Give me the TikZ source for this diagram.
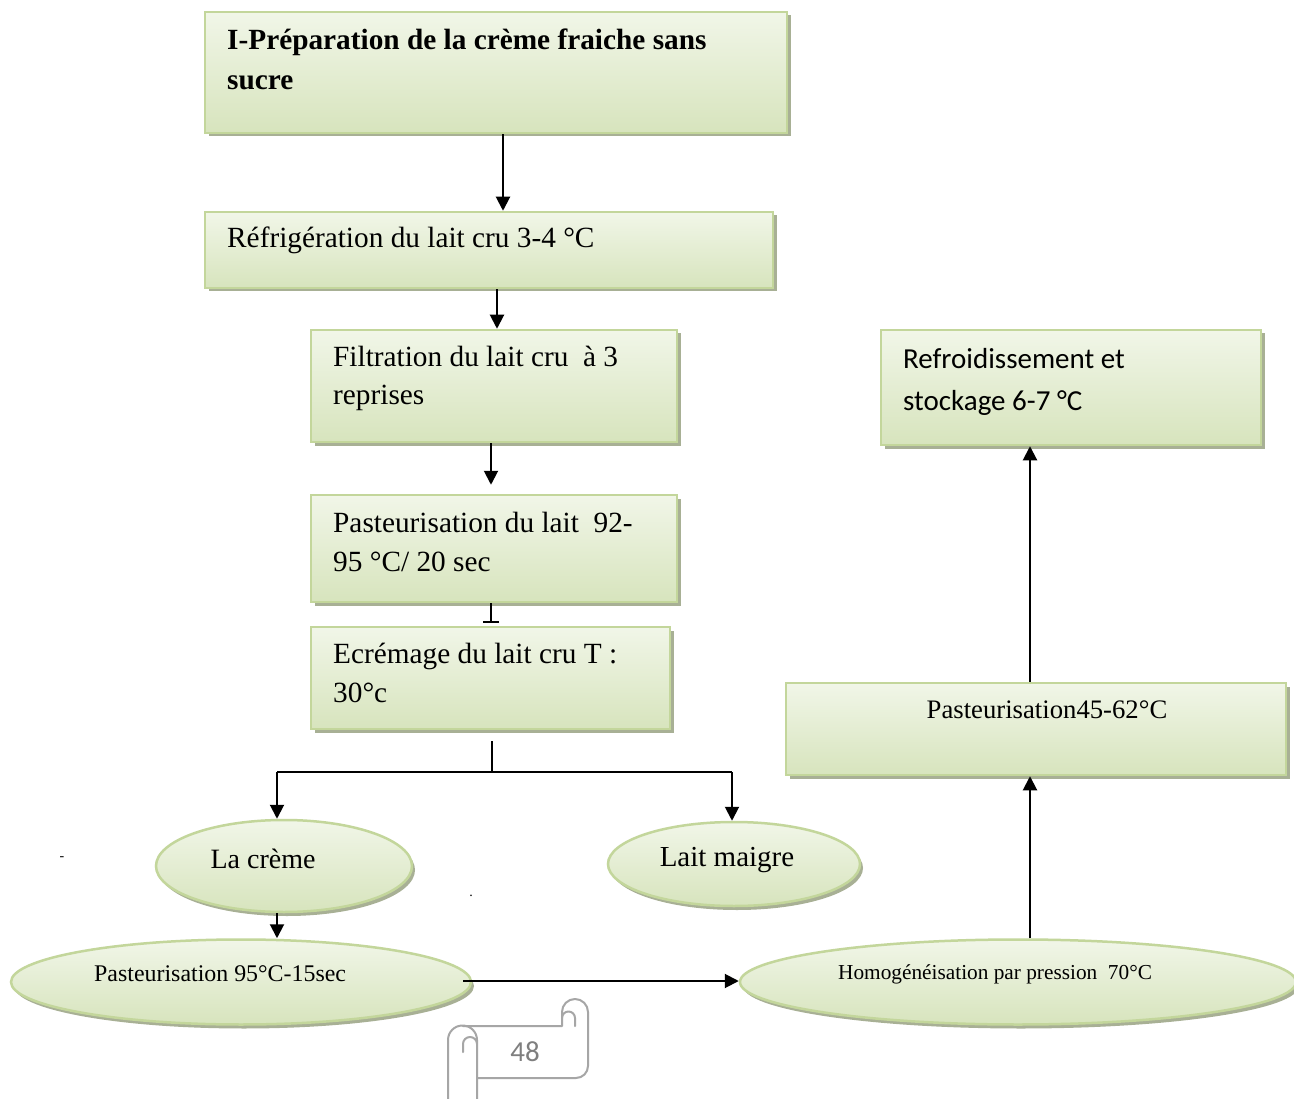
\documentclass[tikz,border=0pt]{standalone}
\usepackage{fontspec}
\setmainfont{Liberation Serif}
\newfontfamily\calib{Carlito}
\usetikzlibrary{arrows.meta,shapes.geometric,shadows,calc}
\definecolor{boxborder}{HTML}{C3D69B}
\definecolor{boxtop}{HTML}{F1F6E8}
\definecolor{boxbot}{HTML}{D7E4BD}
\definecolor{shcol}{HTML}{A8B095}
\definecolor{scrollgray}{HTML}{A6A6A6}
\definecolor{numgray}{HTML}{7F7F7F}
\begin{document}
\begin{tikzpicture}[x=1pt,y=-1pt,
  stepbox/.style={rectangle, draw=boxborder, line width=2.5pt, top color=boxtop, bottom color=boxbot, inner sep=0pt,
    general shadow={fill=shcol, shadow xshift=3.5pt, shadow yshift=-3.5pt}},
  ovalbox/.style={ellipse, draw=boxborder, line width=2.5pt, top color=boxtop, bottom color=boxbot, inner sep=0pt,
    general shadow={fill=shcol, shadow xshift=3pt, shadow yshift=-4pt}},
  lbl/.style={inner sep=0pt, anchor=base west, font=\fontsize{29.3}{40}\selectfont},
  clbl/.style={inner sep=0pt, anchor=base, font=\fontsize{29}{40}\selectfont},
  arr/.style={line width=2pt, -{Triangle[width=14pt,length=14pt]}},
  plain/.style={line width=2pt},
  scroll/.style={draw=scrollgray, line width=2pt, line join=round, line cap=round}
]
\fill[white] (0,0) rectangle (1294,1099);
\useasboundingbox (0,0) rectangle (1294,1099);

% boxes
\node[stepbox, minimum width=582pt, minimum height=121pt] (top) at (496,72.5) {};
\node[stepbox, minimum width=568pt, minimum height=76pt] (refr) at (489,250) {};
\node[stepbox, minimum width=366pt, minimum height=112pt] (filt) at (494,386) {};
\node[stepbox, minimum width=366pt, minimum height=107pt] (past) at (494,548.5) {};
\node[stepbox, minimum width=359pt, minimum height=102pt] (ecr) at (490.5,678) {};
\node[stepbox, minimum width=380pt, minimum height=115pt] (refroid) at (1071,387.5) {};
\node[stepbox, minimum width=500pt, minimum height=92pt] (p45) at (1036,729) {};

% ellipses
\node[ovalbox, minimum width=256pt, minimum height=92pt] (creme) at (284,866) {};
\node[ovalbox, minimum width=252pt, minimum height=84pt] (maigre) at (734,864) {};
\node[ovalbox, minimum width=460pt, minimum height=85pt] (p95) at (241,982) {};
\node[ovalbox, minimum width=556pt, minimum height=85pt] (homog) at (1018,982) {};

% texts
\node[lbl, font=\fontsize{29.3}{40}\selectfont\bfseries] (ttopa) at (227,50) {I-Préparation de la crème fraiche sans};
\node[lbl, font=\fontsize{29.3}{40}\selectfont\bfseries] (ttopb) at (227,90) {sucre};
\node[lbl] (trefr) at (227,248) {Réfrigération du lait cru 3-4 °C};
\node[lbl] (tfilta) at (333,367) {Filtration du lait cru \ à 3};
\node[lbl] (tfiltb) at (333,405) {reprises};
\node[lbl] (tpasta) at (333,532) {Pasteurisation du lait \ 92-};
\node[lbl] (tpastb) at (333,571) {95 °C/ 20 sec};
\node[lbl] (tecra) at (333,663) {Ecrémage du lait cru T :};
\node[lbl] (tecrb) at (333,702) {30°c};
\node[lbl, font=\fontsize{29}{40}\selectfont\calib] (trefroida) at (903,369) {Refroidissement et};
\node[lbl, font=\fontsize{29}{40}\selectfont\calib] (trefroidb) at (903,410) {stockage 6-7 °C};
\node[clbl, font=\fontsize{26.7}{32}\selectfont] (tp45) at (1047,718) {Pasteurisation45-62°C};
\node[clbl, font=\fontsize{28}{32}\selectfont] (tcreme) at (263,868) {La crème};
\node[clbl, font=\fontsize{29}{32}\selectfont] (tmaigre) at (727,866) {Lait maigre};
\node[lbl, font=\fontsize{23.9}{28}\selectfont] (tp95) at (94,981) {Pasteurisation 95°C-15sec};
\node[lbl, font=\fontsize{21.3}{24}\selectfont] (thomog) at (838,979) {Homogénéisation par pression \ 70°C};

% stray marks
\node[clbl, font=\fontsize{14}{16}\selectfont] (dash) at (62,860) {-};
\node[clbl, font=\fontsize{14}{16}\selectfont] (dot) at (471,896) {.};

% connector coordinates
\coordinate (c503) at (503,0);
\coordinate (c497) at (497,0);
\coordinate (c491) at (491,0);
\coordinate (fork) at (492,772);
\coordinate (forkL) at (277,772);
\coordinate (forkR) at (732,772);
\coordinate (c1030) at (1030,0);

\draw[arr] (top.south -| c503) -- (refr.north -| c503);
\draw[arr] (refr.south -| c497) -- (filt.north -| c497);
\draw[arr, shorten >=9pt] (filt.south -| c491) -- (past.north -| c491);
\draw[plain, -{Bar[width=16pt]}, shorten >=3pt] (past.south -| c491) -- (ecr.north -| c491);
\draw[plain] (ecr.south -| fork) ++(0,11) -- (fork);
\draw[plain] (forkL) -- (forkR);
\draw[arr] (forkL) -- (creme.north -| forkL);
\draw[arr] (forkR) -- (maigre.north -| forkR);
\draw[arr] (creme.south -| forkL) -- (p95.north -| forkL);
\draw[arr] ($(p95.east)+(-9,-1)$) -- ($(homog.west)+(0,-1)$);
\draw[arr] (homog.north -| c1030) -- (p45.south -| c1030);
\draw[arr] (p45.north -| c1030) -- (refroid.south -| c1030);

% page number scroll
\draw[scroll] (463,1026) -- (562,1026) -- (562,1012)
  arc[start angle=180, end angle=360, radius=13] -- (588,1066)
  arc[start angle=0, end angle=90, radius=12] -- (477,1078);
\draw[scroll] (575,1026) -- (575,1018) arc[start angle=0, end angle=-180, radius=6.5];
\draw[scroll] (448,1099) -- (448,1040) arc[start angle=180, end angle=360, radius=14.5] -- (477,1099);
\draw[scroll] (463,1052) -- (463,1044) arc[start angle=180, end angle=360, radius=7];
\node[clbl, font=\fontsize{29}{32}\selectfont\calib, text=numgray] (pnum) at (525,1061) {48};
\end{tikzpicture}
\end{document}
